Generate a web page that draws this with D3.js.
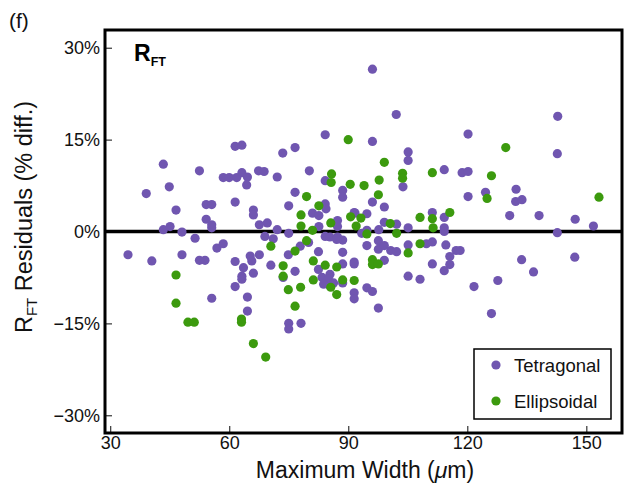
<!DOCTYPE html>
<html lang="en">
<head>
    <meta charset="UTF-8">
    <title>RFT Residuals</title>
    <script src="https://d3js.org/d3.v7.min.js"></script>
    <style>
        body { margin: 0; background: #fff; }
        text { font-family: "Liberation Sans", Arial, Helvetica, sans-serif; }
    </style>
</head>
<body>
    <svg id="chart"></svg>
    <script>
        // [maximum width (um), residual (%)]
        var tetragonal = [
            [84.2,15.8],[61.5,13.9],[63.2,14.1],[73.5,12.8],[76.6,13.7],[43.4,11.0],[52.5,9.9],[67.4,9.9],[68.8,9.8],[80.2,9.9],
            [58.5,8.8],[60.0,8.8],[61.9,8.8],[63.2,9.6],[64.6,8.9],[64.4,7.6],[72.1,8.9],[84.2,8.3],[44.9,7.3],[39.1,6.2],
            [76.6,6.4],[88.6,6.7],[88.6,5.6],[61.5,4.8],[54.2,4.4],[55.6,4.4],[75.0,4.2],[84.2,4.5],[84.4,3.7],[46.6,3.5],
            [66.1,3.5],[66.1,2.7],[81.0,3.0],[82.6,2.6],[54.2,2.0],[55.6,1.1],[55.6,0.6],[67.6,1.1],[69.6,1.4],[43.4,0.3],
            [45.1,0.8],[48.1,-0.1],[72.1,0.3],[75.0,-0.3],[82.6,0.8],[87.3,1.8],[87.3,0.8],[91.7,3.0],[84.2,-0.8],[85.4,-0.9],
            [87.3,-0.9],[69.0,-0.8],[71.1,-1.2],[51.4,-1.1],
            [96.1,26.5],[102.1,19.1],[96.1,14.7],[105.1,13.0],[105.1,11.6],[120.2,15.9],[142.8,18.8],[142.7,12.7],[114.2,10.1],
            [118.7,9.6],[120.2,9.8],[103.8,7.3],[120.2,5.7],[124.6,6.4],[132.3,6.9],[132.2,4.9],[133.8,5.2],[96.1,4.8],[99.1,4.0],
            [130.7,2.6],[138.1,2.6],[147.2,2.0],[151.8,0.9],[142.7,-0.2],[91.5,3.1],[94.7,2.9],[99.1,1.5],[102.2,1.2],[105.1,0.6],
            [111.2,3.1],[114.2,2.3],[114.2,0.6],[114.2,0.0],[97.7,0.3],[93.4,-0.3],[94.7,0.2],
            [118.2,-3.1],[133.7,-4.6],[136.7,-6.6],[147.1,-4.2],[121.7,-9.0],[127.7,-8.0],[126.1,-13.4],
            [88.6,-1.4],[88.6,-3.4],[94.7,-2.3],[97.6,-1.5],[97.6,-2.9],[99.1,-2.3],[100.7,-3.1],[102.2,-3.3],[105.1,-2.2],
            [109.7,-2.0],[111.2,-1.7],[114.6,-2.2],[117.2,-3.1],[115.6,-4.1],[115.6,-5.4],[114.2,-6.4],[111.2,-5.3],[91.5,-5.0],
            [91.5,-5.3],[88.6,-5.3],[99.1,-4.7],[105.1,-7.3],[108.1,-7.8],[88.6,-8.4],[94.7,-9.2],[96.1,-9.8],[91.5,-10.0],
            [91.5,-11.0],[97.6,-12.5],[87.1,-1.3],[85.4,-7.0],[85.4,-8.9],
            [56.9,-2.7],[58.5,-2.0],[53.9,-4.7],[61.5,-4.9],[63.6,-5.9],[65.3,-4.0],[67.6,-3.8],[65.7,-4.8],[63.2,-7.3],
            [63.2,-7.8],[61.5,-9.0],[66.1,-6.8],[55.6,-10.9],[64.6,-10.7],[64.6,-13.0],[70.5,-5.5],[76.6,-6.5],[74.9,-3.8],
            [77.9,-2.4],[80.0,-1.8],[82.5,-3.3],[73.6,-7.5],[82.5,-6.2],[83.4,-7.5],[85.0,-7.8],[83.8,-8.6],[86.3,-8.4],
            [34.5,-3.8],[40.5,-4.8],[48.1,-3.8],[52.5,-4.7],[75.0,-15.0],[75.0,-15.9],[78.1,-15.0]
        ];
        var ellipsoidal = [
            [90.0,15.0],[85.8,9.4],[85.7,8.0],[90.5,7.7],[79.5,5.7],[82.6,4.2],[78.1,2.7],[78.1,0.9],[81.0,0.2],[85.6,1.4],
            [90.6,2.4],[92.0,0.9],[79.5,-1.5],
            [99.1,11.3],[103.7,9.5],[103.7,8.7],[94.0,7.5],[97.8,8.4],[97.6,6.0],[111.2,9.6],[126.1,9.1],[129.7,13.7],
            [125.0,5.4],[153.2,5.6],[93.2,2.2],[94.7,-0.4],[100.6,1.3],[102.2,-0.3],[108.1,2.3],[111.2,2.1],[111.4,0.6],[115.6,3.1],
            [108.1,-2.0],[105.1,-3.5],[96.1,-4.6],[96.1,-5.4],[97.6,-5.3],[88.6,-7.9],[91.5,-8.0],[87.1,-5.8],[87.1,-10.3],
            [70.5,-2.4],[76.6,-3.2],[73.6,-5.6],[73.6,-7.3],[81.2,-4.8],[84.2,-5.5],[81.2,-7.9],[74.9,-9.5],[78.0,-9.1],
            [85.6,-9.1],[76.6,-12.2],
            [46.6,-7.1],[46.6,-11.7],[49.6,-14.8],[51.2,-14.8],[63.1,-14.3],[63.1,-14.8],[66.1,-18.3],[69.2,-20.5]
        ];
        var xTicks = [30, 60, 90, 120, 150];
        var yTicks = [-30, -15, 0, 15, 30];
        var seriesNames = ["Tetragonal", "Ellipsoidal"];
        var colors = ["#7056b0", "#3c9a0e"];

        var W = 624, H = 487;
        var plotL = 105, plotR = 622, plotT = 30, plotB = 433;

        var svg = d3.select("#chart").attr("width", W).attr("height", H);

        var x = d3.scaleLinear().domain([28.7, 159]).range([plotL, plotR]);
        var y = d3.scaleLinear().domain([-32.9, 32.9]).range([plotB, plotT]);

        // axes with inward ticks
        var yAxis = svg.append("g")
            .attr("transform", "translate(" + plotL + ",0)")
            .call(d3.axisLeft(y).tickValues(yTicks).tickSize(-7).tickPadding(5)
                .tickFormat(d => d3.format("d")(d) + "%"));
        var xAxis = svg.append("g")
            .attr("transform", "translate(0," + plotB + ")")
            .call(d3.axisBottom(x).tickValues(xTicks).tickSize(-7).tickPadding(3));
        [xAxis, yAxis].forEach(function(g) {
            g.select(".domain").remove();
            g.selectAll(".tick line").attr("stroke", "#444").attr("stroke-width", 1.3);
            g.selectAll(".tick text").attr("font-size", 18).attr("fill", "#111")
                .attr("font-family", "'Liberation Sans', Arial, sans-serif");
        });

        // zero line
        svg.append("line")
            .attr("x1", plotL).attr("x2", plotR)
            .attr("y1", y(0)).attr("y2", y(0))
            .attr("stroke", "#000").attr("stroke-width", 3.5);

        // points
        svg.append("g").selectAll("circle")
            .data(tetragonal).enter().append("circle")
            .attr("cx", d => x(d[0])).attr("cy", d => y(d[1]))
            .attr("r", 4.6).attr("fill", colors[0]);
        svg.append("g").selectAll("circle")
            .data(ellipsoidal).enter().append("circle")
            .attr("cx", d => x(d[0])).attr("cy", d => y(d[1]))
            .attr("r", 4.6).attr("fill", colors[1]);

        // frame
        svg.append("rect")
            .attr("x", plotL).attr("y", plotT)
            .attr("width", plotR - plotL).attr("height", plotB - plotT)
            .attr("fill", "none").attr("stroke", "#000").attr("stroke-width", 3);

        // legend
        var lg = svg.append("g").attr("transform", "translate(474,349)");
        lg.append("rect").attr("width", 137).attr("height", 70)
            .attr("fill", "#fff").attr("stroke", "#000").attr("stroke-width", 1.5);
        seriesNames.forEach(function(name, i) {
            lg.append("circle").attr("cx", 22).attr("cy", 16 + i * 36)
                .attr("r", 4.6).attr("fill", colors[i]);
            lg.append("text").attr("x", 40).attr("y", 22.5 + i * 36)
                .attr("font-size", 18.5).attr("fill", "#111").text(name);
        });

        // panel tag and inner title
        svg.append("text").attr("x", 9).attr("y", 28)
            .attr("font-size", 21).attr("fill", "#111").text("(f)");
        var rt = svg.append("text").attr("x", 134).attr("y", 61)
            .attr("font-size", 23).attr("font-weight", "bold").attr("fill", "#000");
        rt.append("tspan").text("R");
        rt.append("tspan").attr("font-size", 12.5).attr("dy", 5).text("FT");

        // axis labels
        var yl = svg.append("text")
            .attr("transform", "translate(32,217) rotate(-90)")
            .attr("text-anchor", "middle").attr("font-size", 23.5).attr("fill", "#111");
        yl.append("tspan").text("R");
        yl.append("tspan").attr("font-size", 15).attr("dy", 5).text("FT");
        yl.append("tspan").attr("dy", -5).text(" Residuals (% diff.)");

        var xl = svg.append("text")
            .attr("x", 365).attr("y", 478)
            .attr("text-anchor", "middle").attr("font-size", 23).attr("fill", "#111");
        xl.append("tspan").text("Maximum Width (");
        xl.append("tspan").attr("font-style", "italic").text("\u03bc");
        xl.append("tspan").text("m)");
    </script>
</body>
</html>
